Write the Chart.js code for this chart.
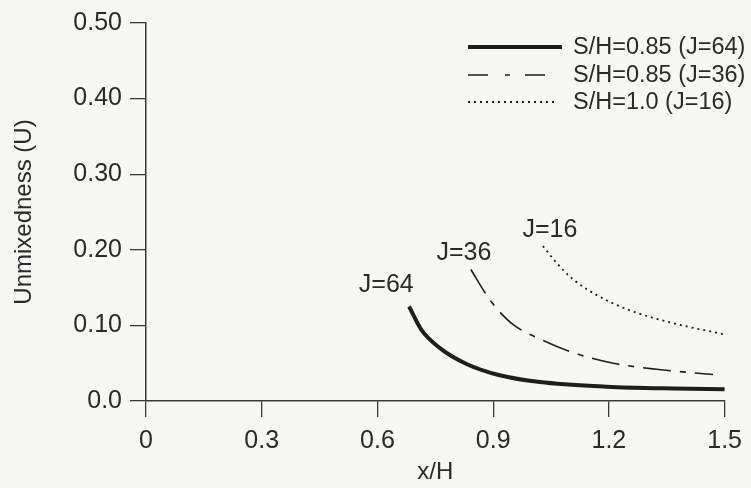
<!DOCTYPE html>
<html>
<head>
<meta charset="utf-8">
<script src="https://cdn.jsdelivr.net/npm/chart.js@4/dist/chart.umd.min.js"></script>
<style>
  html, body { margin: 0; padding: 0; background: #f7f7f5; }
  #wrap { width: 751px; height: 488px; }
</style>
</head>
<body>
<div id="wrap"><canvas id="c" width="751" height="488"></canvas></div>
<script>
// ---- data ----
const seriesNames = ["S/H=0.85 (J=64)", "S/H=0.85 (J=36)", "S/H=1.0 (J=16)"];
const curveLabels = ["J=64", "J=36", "J=16"];

const xJ64 = [0.682, 0.714, 0.762, 0.831, 0.917, 1.021, 1.194, 1.365, 1.5];
const uJ64 = [0.125, 0.094, 0.070, 0.049, 0.034, 0.025, 0.019, 0.0165, 0.0155];

const xJ36 = [0.842, 0.883, 0.909, 0.952, 1.025, 1.107, 1.211, 1.323, 1.47];
const uJ36 = [0.174, 0.140, 0.1225, 0.101, 0.081, 0.064, 0.050, 0.042, 0.035];

const xJ16 = [1.029, 1.064, 1.107, 1.176, 1.254, 1.366, 1.5];
const uJ16 = [0.205, 0.183, 0.161, 0.138, 0.120, 0.103, 0.088];

// label anchor positions (data coords) for the J= annotations
const labelX = [0.623, 0.824, 1.047];
const labelU = [0.153, 0.196, 0.226];

const xTicks = [0, 0.3, 0.6, 0.9, 1.2, 1.5];
const xTickLabels = ["0", "0.3", "0.6", "0.9", "1.2", "1.5"];
const yTicks = [0, 0.1, 0.2, 0.3, 0.4, 0.5];
const yTickLabels = ["0.0", "0.10", "0.20", "0.30", "0.40", "0.50"];

// ---- styling ----
const FONT = "'Liberation Sans', Arial, Helvetica, sans-serif";
const INK = "#2a2a2a";
const LINE = "#1e1e1e";

const pts = (xs, ys) => xs.map((x, i) => ({ x: x, y: ys[i] }));

const styles = [
  { borderWidth: 4, borderDash: [], legendDash: [] },
  { borderWidth: 1.6, borderDash: [28, 9, 6, 9], legendDash: [20, 17, 5, 15] },
  { borderWidth: 1.8, borderDash: [2, 4], legendDash: [2, 4] }
];

const datasets = [
  pts(xJ64, uJ64), pts(xJ36, uJ36), pts(xJ16, uJ16)
].map((d, i) => ({
  label: seriesNames[i],
  data: d,
  borderColor: LINE,
  backgroundColor: LINE,
  borderWidth: styles[i].borderWidth,
  borderDash: styles[i].borderDash,
  pointRadius: 0,
  fill: false,
  cubicInterpolationMode: 'monotone',
  clip: false
}));

const customLegend = {
  id: 'customLegend',
  afterDraw(chart) {
    const ctx = chart.ctx;
    ctx.save();
    const rows = [47, 75, 102];
    const lineEnds = [562, 547, 555];
    ctx.font = "23.5px " + FONT;
    ctx.textBaseline = 'middle';
    ctx.fillStyle = INK;
    seriesNames.forEach((name, i) => {
      ctx.beginPath();
      ctx.strokeStyle = LINE;
      ctx.lineWidth = styles[i].borderWidth === 4 ? 3.8 : styles[i].borderWidth;
      ctx.setLineDash(styles[i].legendDash);
      ctx.moveTo(468, rows[i]);
      ctx.lineTo(lineEnds[i], rows[i]);
      ctx.stroke();
      ctx.setLineDash([]);
      ctx.fillText(name, 573, rows[i] + 1);
    });
    // curve annotations placed through the scales
    const xs = chart.scales.x, ys = chart.scales.y;
    ctx.font = "25px " + FONT;
    ctx.textAlign = 'center';
    curveLabels.forEach((t, i) => {
      ctx.fillText(t, xs.getPixelForValue(labelX[i]), ys.getPixelForValue(labelU[i]));
    });
    ctx.restore();
  }
};

new Chart(document.getElementById('c'), {
  type: 'line',
  data: { datasets: datasets },
  options: {
    responsive: false,
    animation: false,
    events: [],
    layout: { padding: { left: 0, top: 16, right: 26, bottom: 0 } },
    plugins: { legend: { display: false }, tooltip: { enabled: false } },
    scales: {
      x: {
        type: 'linear',
        min: 0, max: 1.5,
        afterBuildTicks: (s) => { s.ticks = xTicks.map(v => ({ value: v })); },
        afterFit: (s) => { s.height = 87; },
        ticks: {
          color: INK,
          font: { family: FONT, size: 25 },
          padding: 9,
          maxRotation: 0,
          autoSkip: false,
          callback: (v) => { const k = xTicks.indexOf(v); return k >= 0 ? xTickLabels[k] : ''; }
        },
        grid: { display: true, drawOnChartArea: false, drawTicks: true, tickLength: 16, color: '#3a3a3a', lineWidth: 1.3 },
        border: { display: true, color: '#3a3a3a', width: 1.5 },
        title: { display: true, text: 'x/H', color: INK, font: { family: FONT, size: 24 }, padding: { top: 0, bottom: 1 } }
      },
      y: {
        type: 'linear',
        min: 0, max: 0.5,
        afterBuildTicks: (s) => { s.ticks = yTicks.map(v => ({ value: v })); },
        afterFit: (s) => { s.width = 146; },
        ticks: {
          color: INK,
          font: { family: FONT, size: 25 },
          padding: 8,
          autoSkip: false,
          callback: (v) => { const k = yTicks.findIndex(t => Math.abs(t - v) < 1e-9); return k >= 0 ? yTickLabels[k] : ''; }
        },
        grid: { display: true, drawOnChartArea: false, drawTicks: true, tickLength: 16, color: '#3a3a3a', lineWidth: 1.3 },
        border: { display: true, color: '#3a3a3a', width: 1.5 },
        title: { display: true, text: 'Unmixedness (U)', color: INK, font: { family: FONT, size: 24 }, padding: { top: 10, bottom: 10 } }
      }
    }
  },
  plugins: [customLegend]
});
</script>
</body>
</html>
